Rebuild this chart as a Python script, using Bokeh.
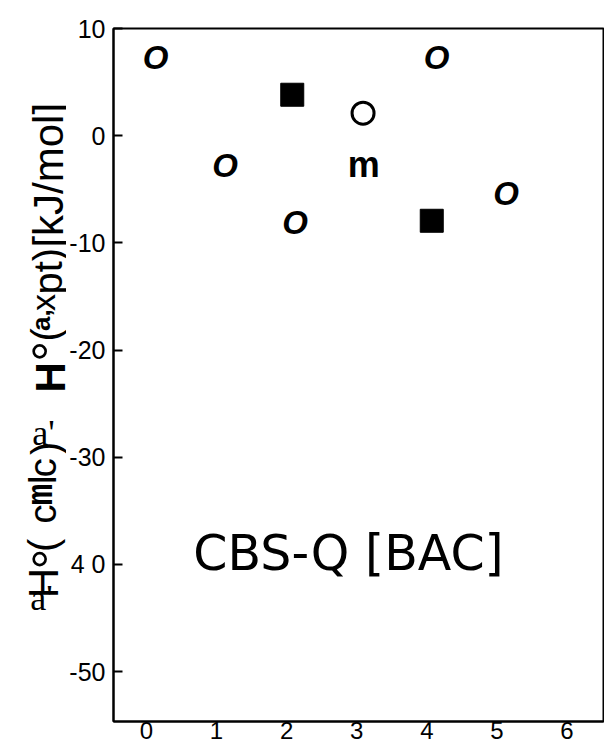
import math
from bokeh.plotting import figure
from bokeh.layouts import row
from bokeh.models import Range1d, Label, FixedTicker
from bokeh.core.properties import value
from bokeh.embed import file_html
from bokeh.resources import INLINE

# ---- data ----
x_ticks = [0, 1, 2, 3, 4, 5, 6]
y_ticks = [10, 0, -10, -20, -30, -40, -50]
y_tick_labels = {10: "10", 0: "0", -10: "-10", -20: "-20", -30: "-30", -40: "4 0", -50: "-50"}

o_x = [0.13, 4.14, 1.12, 5.13, 2.12]
o_y = [7.32, 7.32, -2.78, -5.42, -8.07]
sq_x = [2.08, 4.07]
sq_y = [3.82, -7.94]
circ_x = [3.09]
circ_y = [2.10]
m_x = [3.10]
m_y = [-2.66]
method_label = "CBS-Q [BAC]"

SANS = "Liberation Sans"
SERIF = "Liberation Serif"
DEJA = "DejaVu Sans"
MONO = "Liberation Mono"

W, H = 604, 751
LW = 66                      # width of the strip that holds the y title
X0, X1 = -0.47, 6.52
Y0, Y1 = -54.66, 10

def dx(px):  # page x -> data x of the main plot
    return (px - 145) / 70.28

def dy(py):  # page y -> data y of the main plot
    return (135.2 - py) / 10.717

p = figure(width=W - LW, height=H, output_backend="svg", toolbar_location=None,
           x_range=Range1d(X0, X1), y_range=Range1d(Y0, Y1),
           min_border_left=112 - LW, min_border_top=28, min_border_right=1,
           min_border_bottom=30, background_fill_color="white",
           border_fill_color="white")
p.grid.visible = False
p.outline_line_color = "black"
p.outline_line_width = 2

p.xaxis.ticker = FixedTicker(ticks=x_ticks)
p.xaxis.major_label_text_font = SANS
p.xaxis.major_label_text_font_size = "24px"
p.xaxis.major_label_text_color = "black"
p.xaxis.major_tick_in = 0
p.xaxis.major_tick_out = 0
p.xaxis.minor_tick_line_color = None
p.xaxis.axis_line_width = 2
p.xaxis.axis_line_color = "black"
p.xaxis.major_label_standoff = 0

p.yaxis.ticker = FixedTicker(ticks=y_ticks)
p.yaxis.major_label_overrides = y_tick_labels
p.yaxis.major_label_text_font = SANS
p.yaxis.major_label_text_font_size = "25px"
p.yaxis.major_label_text_color = "black"
p.yaxis.major_tick_in = 9
p.yaxis.major_tick_out = 0
p.yaxis.major_tick_line_width = 2
p.yaxis.major_tick_line_color = "black"
p.yaxis.minor_tick_line_color = None
p.yaxis.axis_line_width = 2
p.yaxis.axis_line_color = "black"
p.yaxis.major_label_standoff = 8

# markers
p.text(o_x, o_y, text=["O"] * len(o_x), text_font=value(SANS), text_font_style="bold italic",
       text_font_size="33px", text_align="center", text_baseline="middle", text_color="black")
p.text(m_x, m_y, text=["m"] * len(m_x), text_font=value(SANS), text_font_style="bold",
       text_font_size="36px", text_align="center", text_baseline="middle", text_color="black")
p.scatter(sq_x, sq_y, marker="square", size=23, fill_color="black", line_color="black")
p.scatter(circ_x, circ_y, marker="circle", size=22, fill_color="white", line_color="black",
          line_width=3)

p.add_layout(Label(x=dx(192), y=dy(553), text=method_label, text_font=DEJA,
                   text_font_size="49px", text_align="left", text_baseline="alphabetic",
                   text_color="black"))

# strip on the left for the (garbled) y-axis title, coordinates = page pixels
t = figure(width=LW, height=H, output_backend="svg", toolbar_location=None,
           x_range=Range1d(0, LW), y_range=Range1d(H, 0),
           x_axis_type=None, y_axis_type=None,
           min_border_left=0, min_border_right=0, min_border_top=0, min_border_bottom=0,
           background_fill_color="white", border_fill_color="white")
t.grid.visible = False
t.outline_line_color = None

R = math.pi / 2
# (text, baseline x, centre y, size, font, style) -- read bottom to top
rotated = [
    ("[kJ/mol]", 48, 159, 42, SANS, "normal"),
    ("pt)", 47, 263, 40, SANS, "normal"),
    ("x", 42, 297, 34, SANS, "normal"),
    ("a,", 40, 316, 26, SANS, "bold"),
    ("(", 45, 332, 40, SANS, "normal"),
    ("°", 50, 350, 52, SANS, "normal"),
    ("H", 50, 378, 42, SANS, "bold"),
    (")", 45, 455, 40, SANS, "normal"),
    ("c", 42, 476, 38, SANS, "normal"),
    ("l", 42, 489, 38, SANS, "normal"),
    ("m", 42, 505, 36, MONO, "bold"),
    ("c", 42, 526, 38, SANS, "normal"),
    ("(", 42, 560, 40, SANS, "normal"),
    ("°", 50, 575, 52, SANS, "normal"),
    ("H", 43, 601, 42, SANS, "normal"),
]
for txt, px, py, fs, font, style in rotated:
    t.add_layout(Label(x=px, y=py, text=txt, text_font=font, text_font_style=style,
                       text_font_size=f"{fs}px", angle=R, text_align="center",
                       text_baseline="alphabetic", text_color="black"))

upright = [
    ("a'", 43, 438, 36, SERIF),
    ("a'", 41, 617, 36, SERIF),
]
for txt, px, py, fs, font in upright:
    t.add_layout(Label(x=px, y=py, text=txt, text_font=font, text_font_size=f"{fs}px",
                       angle=0, text_align="center", text_baseline="alphabetic",
                       text_color="black"))

layout = row(t, p, spacing=0)
open("out.html", "w").write(file_html(layout, INLINE))
